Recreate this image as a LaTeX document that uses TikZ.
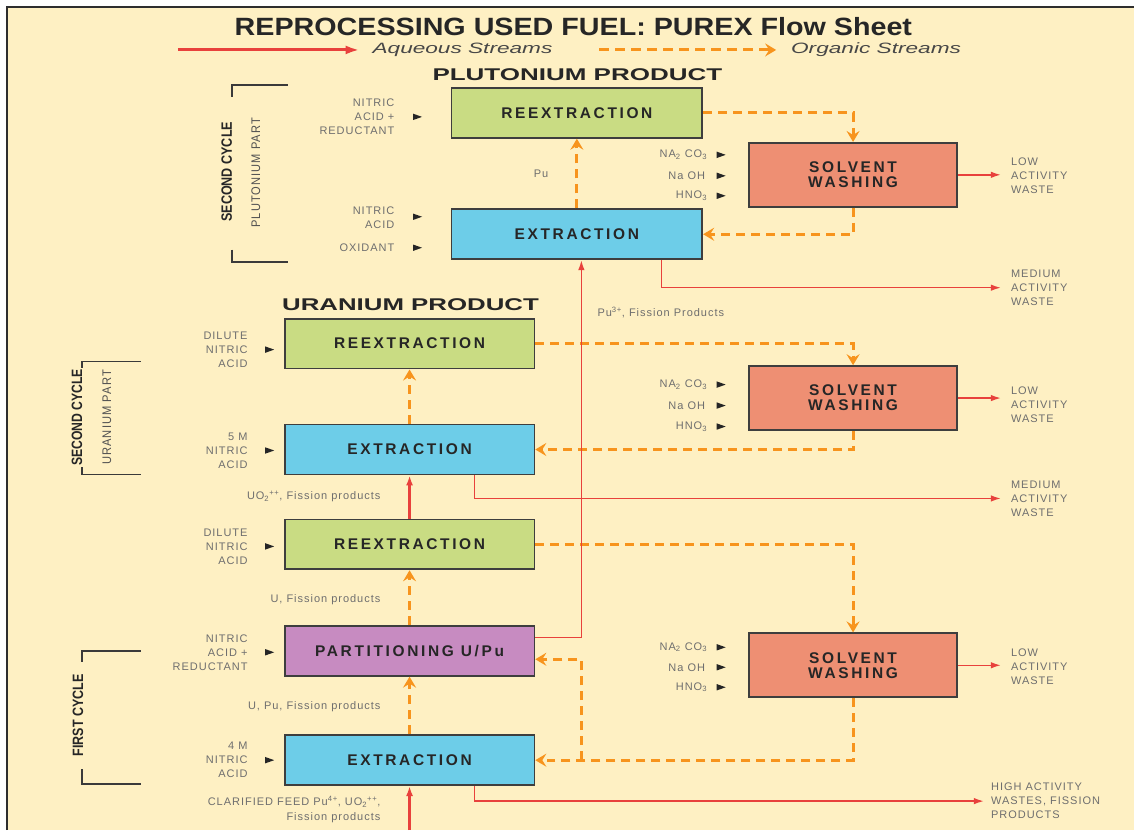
\documentclass[tikz,border=0pt]{standalone}
\usepackage{fontspec}
\usepackage{graphicx}
\setmainfont{Liberation Sans}
\newfontfamily\labf[LetterSpace=9]{Liberation Sans}
\newfontfamily\boxf[LetterSpace=17]{Liberation Sans}
\newfontfamily\sidef[LetterSpace=10]{Liberation Sans}
\usetikzlibrary{arrows.meta,calc}
\definecolor{cream}{HTML}{FEF0C3}
\definecolor{frame}{HTML}{2E2E2E}
\definecolor{boxline}{HTML}{3E3E3E}
\definecolor{txtdark}{HTML}{262626}
\definecolor{labgray}{HTML}{6E6E6E}
\definecolor{brkgray}{HTML}{3A3A3A}
\definecolor{aqred}{HTML}{E8413C}
\definecolor{orng}{HTML}{F7941D}
\definecolor{gfill}{HTML}{C9DC83}
\definecolor{bfill}{HTML}{6DCDE8}
\definecolor{pfill}{HTML}{C78BC1}
\definecolor{sfill}{HTML}{EE8F73}
\newcommand\fitw[2]{\resizebox{#1}{\height}{#2}}
\begin{document}
\begin{tikzpicture}[x=1pt,y=-1pt,
  procbox/.style={draw=boxline,line width=1.8pt,inner sep=0pt,text=txtdark,align=center,
    font=\boxf\bfseries\fontsize{15.5}{15}\selectfont},
  pubox/.style={procbox,minimum width=251pt,minimum height=50pt},
  ubox/.style={procbox,minimum width=250pt,minimum height=50pt},
  swbox/.style={procbox,fill=sfill,minimum width=208pt,minimum height=64pt},
  lab/.style={text=labgray,font=\labf\fontsize{11}{14}\selectfont,inner sep=0pt},
  aq/.style={draw=aqred,line width=1.5pt,-{Latex[length=10pt,width=6.5pt]}},
  aqthick/.style={aq,line width=2.2pt,-{Latex[length=10pt,width=7pt]}},
  org/.style={draw=orng,line width=3pt,dash pattern=on 9pt off 6pt,
    -{Stealth[length=11pt,width=13pt,inset=4pt]}},
  brk/.style={draw=brkgray,line width=1.6pt},
  tri/.pic={\fill[black!85] (-4.5,-3.2) -- (4.5,0) -- (-4.5,3.2) -- cycle;}
]
% background and frame
\fill[white] (0,0) rectangle (1135,831);
\fill[cream] (7,7) rectangle (1135,831);
\draw[frame,line width=2.5pt] (7,831) -- (7,7) -- (1135,7);

% title and legend
\node[text=txtdark] (title) at (574,27)
  {\fitw{678pt}{\bfseries\fontsize{25}{25}\selectfont REPROCESSING USED FUEL: PUREX Flow Sheet}};
\coordinate (la1) at (178,50);
\coordinate (la2) at (360,50);
\draw[draw=aqred,line width=3pt,-{Latex[length=14pt,width=9pt]}] (la1) -- (la2);
\node[text=txtdark!85] (laq) at (463,50)
  {\fitw{180pt}{\itshape\fontsize{15}{15}\selectfont Aqueous Streams}};
\coordinate (lo1) at (600,50);
\coordinate (lo2) at (777,50);
\draw[org,dash pattern=on 10pt off 6pt] (lo1) -- (lo2);
\node[text=txtdark!85] (lorg) at (877,50)
  {\fitw{170pt}{\itshape\fontsize{15}{15}\selectfont Organic Streams}};

% headings
\node[text=txtdark] (puprod) at (578,75)
  {\fitw{290pt}{\bfseries\fontsize{17}{17}\selectfont PLUTONIUM PRODUCT}};
\node[text=txtdark] (uprod) at (411,305)
  {\fitw{257pt}{\bfseries\fontsize{17}{17}\selectfont URANIUM PRODUCT}};

% boxes
\node[pubox,fill=gfill] (PuRe) at (577.5,113) {REEXTRACTION};
\node[pubox,fill=bfill] (PuEx) at (577.5,234.5) {EXTRACTION};
\node[swbox] (PuSW) at (854,175) {SOLVENT\\WASHING};
\node[ubox,fill=gfill] (URe) at (410,344) {REEXTRACTION};
\node[ubox,fill=bfill] (UEx) at (410,450) {EXTRACTION};
\node[swbox] (USW) at (854,398.5) {SOLVENT\\WASHING};
\node[ubox,fill=gfill] (Re1) at (410,545) {REEXTRACTION};
\node[ubox,fill=pfill] (Part) at (410,651.5) {PARTITIONING U/Pu};
\node[ubox,fill=bfill] (Ex1) at (410,761) {EXTRACTION};
\node[swbox] (SW1) at (854,666) {SOLVENT\\WASHING};

% brackets and side titles
\draw[brk] (288,85) -- (232,85) -- (232,97);
\draw[brk] (232,250) -- (232,262) -- (288,262);
\node[rotate=90,text=txtdark] (sc1) at (227,172)
  {\fitw{100pt}{\bfseries\fontsize{15}{15}\selectfont SECOND CYCLE}};
\node[rotate=90,text=txtdark!80] (pp) at (256,173)
  {\fitw{110pt}{\sidef\fontsize{12.5}{12}\selectfont PLUTONIUM PART}};

\draw[brk] (141,362) -- (82,362) -- (82,368);
\draw[brk] (82,468) -- (82,475) -- (141,475);
\node[rotate=90,text=txtdark] (sc2) at (77,418)
  {\fitw{97pt}{\bfseries\fontsize{15}{15}\selectfont SECOND CYCLE}};
\node[rotate=90,text=txtdark!80] (up) at (107,418)
  {\fitw{95pt}{\sidef\fontsize{12.5}{12}\selectfont URANIUM PART}};

\draw[brk] (141,652) -- (82,652) -- (82,663);
\draw[brk] (82,770) -- (82,785) -- (141,785);
\node[rotate=90,text=txtdark] (fc) at (78,716)
  {\fitw{82pt}{\bfseries\fontsize{15}{15}\selectfont FIRST CYCLE}};

% left input labels (plutonium part)
\node[lab,anchor=east,align=right] (in1) at (395,117) {NITRIC\\ACID +\\REDUCTANT};
\pic at (418,117) {tri};
\node[lab,anchor=east,align=right] (in2) at (395,218) {NITRIC\\ACID};
\pic at (418,217) {tri};
\node[lab,anchor=east] (in3) at (395,248) {OXIDANT};
\pic at (418,248) {tri};
\node[lab,anchor=east] (pu) at (549,174) {Pu};

% left input labels (uranium / first cycle)
\node[lab,anchor=east,align=right] (in4) at (248,350) {DILUTE\\NITRIC\\ACID};
\pic at (270,350) {tri};
\node[lab,anchor=east,align=right] (in5) at (248,451) {5 M\\NITRIC\\ACID};
\pic at (270,451) {tri};
\node[lab,anchor=east,align=right] (in6) at (248,547) {DILUTE\\NITRIC\\ACID};
\pic at (270,547) {tri};
\node[lab,anchor=east,align=right] (in7) at (248,653) {NITRIC\\ACID +\\REDUCTANT};
\pic at (270,653) {tri};
\node[lab,anchor=east,align=right] (in8) at (248,761) {4 M\\NITRIC\\ACID};
\pic at (270,761) {tri};

% stream labels
\node[lab,anchor=east] (s1) at (381,497) {UO\textsubscript{2}\textsuperscript{++}, Fission products};
\node[lab,anchor=east] (s2) at (381,600) {U, Fission products};
\node[lab,anchor=east] (s3) at (381,707) {U, Pu, Fission products};
\node[lab,anchor=east,align=right] (s4) at (381,810.5)
  {CLARIFIED FEED Pu\textsuperscript{4+}, UO\textsubscript{2}\textsuperscript{++},\\[1pt]Fission products};
\node[lab,anchor=west] (s5) at (598,313) {Pu\textsuperscript{3+}, Fission Products};

% solvent washing chemicals
\foreach \n/\y in {a/155,b/385,c/648}{
  \node[lab,anchor=east] (na\n) at (708,\y) {NA\textsubscript{2} CO\textsubscript{3}};
  \pic at (722,\y) {tri};}
\foreach \n/\y in {a/176,b/406,c/668}{
  \node[lab,anchor=east] (oh\n) at (706,\y) {Na OH};
  \pic at (722,\y) {tri};}
\foreach \n/\y in {a/196,b/427,c/688}{
  \node[lab,anchor=east] (hn\n) at (708,\y) {HNO\textsubscript{3}};
  \pic at (722,\y) {tri};}

% waste labels
\node[lab,anchor=west,align=left] (LW1) at (1012,176) {LOW\\ACTIVITY\\WASTE};
\node[lab,anchor=west,align=left] (MW1) at (1012,288) {MEDIUM\\ACTIVITY\\WASTE};
\node[lab,anchor=west,align=left] (LW2) at (1012,405) {LOW\\ACTIVITY\\WASTE};
\node[lab,anchor=west,align=left] (MW2) at (1012,499) {MEDIUM\\ACTIVITY\\WASTE};
\node[lab,anchor=west,align=left] (LW3) at (1012,667) {LOW\\ACTIVITY\\WASTE};
\node[lab,anchor=west,align=left] (HW) at (992,802) {HIGH ACTIVITY\\WASTES, FISSION\\PRODUCTS};

% organic (dashed) streams
\draw[org] (PuEx.north) -- (PuRe.south);
\draw[org] (PuRe.east) -| (PuSW.north);
\draw[org] (PuSW.south) |- (PuEx.east);
\draw[org] (UEx.north) -- (URe.south);
\draw[org] (URe.east) -| (USW.north);
\draw[org] (USW.south) |- (UEx.east);
\draw[org] (Part.north) -- (Re1.south);
\draw[org] (Ex1.north) -- (Part.south);
\draw[org] (Re1.east) -| (SW1.north);
\draw[org] (SW1.south) |- (Ex1.east);
\coordinate (jx) at (582,0);
\draw[org] (jx |- Ex1.east) -- (jx |- 0,660) -- (Part.east |- 0,660);

% aqueous (solid) streams
\coordinate (feed) at (410,831);
\draw[aqthick] (feed) -- (Ex1.south);
\draw[aqthick] (Re1.north) -- (UEx.south);
\draw[aq] (Part.east |- 0,638) -| (PuEx.south -| jx);
\draw[aq,shorten >=10pt] (PuEx.south -| 662,0) |- (MW1.west);
\draw[aq,shorten >=10pt] (UEx.south -| 475,0) |- (MW2.west);
\draw[aq,shorten >=7pt] (Ex1.south -| 475,0) |- (HW.west);
\draw[aq,shorten >=10pt] (PuSW.east) -- (PuSW.east -| LW1.west);
\draw[aq,shorten >=10pt] (USW.east) -- (USW.east -| LW2.west);
\draw[aq,shorten >=10pt] (SW1.east) -- (SW1.east -| LW3.west);
\end{tikzpicture}
\end{document}
